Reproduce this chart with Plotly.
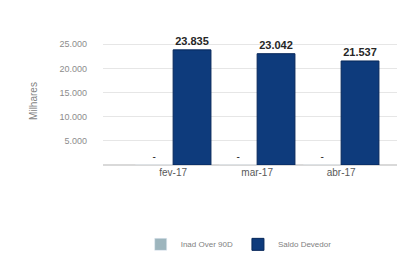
import plotly.graph_objects as go

categories = ["fev-17", "mar-17", "abr-17"]
inad_over_90d = [0, 0, 0]
saldo_devedor = [23835, 23042, 21537]
y_tick_vals = [5000, 10000, 15000, 20000, 25000]
y_tick_text = ["5.000", "10.000", "15.000", "20.000", "25.000"]

def fmt(v):
    return "-" if v == 0 else f"{v:,}".replace(",", ".")

fig = go.Figure()
fig.add_trace(go.Bar(
    name="Inad Over 90D", x=categories, y=inad_over_90d,
    marker=dict(color="#9db5bd"),
    text=[fmt(v) for v in inad_over_90d], textposition="outside",
    textfont=dict(size=10, color="#262626", family="Liberation Sans"),
    cliponaxis=False,
))
fig.add_trace(go.Bar(
    name="Saldo Devedor", x=categories, y=saldo_devedor,
    marker=dict(color="#0e3b7c", line=dict(color="#06275a", width=1)),
    text=["<b>" + fmt(v) + "</b>" for v in saldo_devedor], textposition="outside",
    textfont=dict(size=11, color="#262626", family="Liberation Sans"),
    cliponaxis=False,
))

fig.update_layout(
    width=405, height=257,
    margin=dict(l=95, r=15, t=29, b=100, autoexpand=False),
    paper_bgcolor="white", plot_bgcolor="white",
    barmode="group", bargap=0.1, bargroupgap=0.0,
    font=dict(family="Liberation Sans", size=10, color="#7f7f7f"),
    showlegend=True,
    legend=dict(orientation="h", x=0.46, xanchor="center", y=-0.62, yanchor="middle",
                font=dict(size=8, color="#7f7f7f"), itemwidth=30),
    xaxis=dict(range=[-0.835, 2.677], showgrid=False, showline=False, ticks="",
               tickfont=dict(size=10, color="#595959")),
    yaxis=dict(range=[0, 26500], tickvals=y_tick_vals, ticktext=y_tick_text,
               showgrid=True, gridcolor="#e6e6e6", zeroline=True, zerolinecolor="#d9d9d9",
               tickfont=dict(size=9, color="#8c8c8c"), ticklabelstandoff=15,
               title=dict(text="Milhares", font=dict(size=10, color="#7f7f7f"), standoff=19)),
)

fig.write_html("out.html")
